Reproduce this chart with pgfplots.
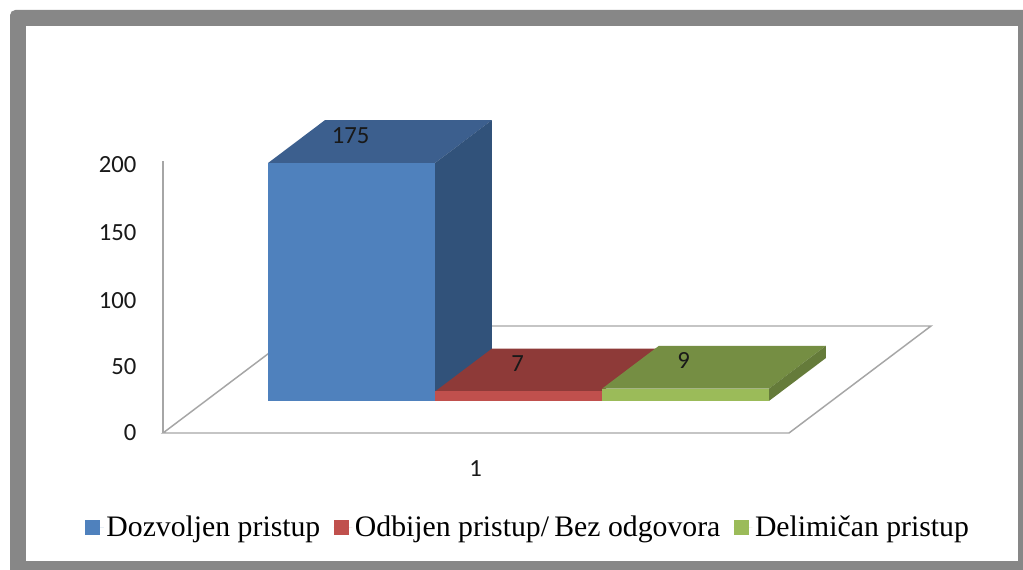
\documentclass[border=0pt]{standalone}
\usepackage{fontspec}
\setmainfont{Liberation Serif}
\newfontfamily\tickfont{Carlito}
\usepackage{pgfplots}
\pgfplotsset{compat=1.18}
\definecolor{frameC}{HTML}{878787}
\definecolor{lineC}{HTML}{A6A6A6}
\definecolor{blueF}{HTML}{4F81BD}
\definecolor{blueT}{HTML}{3C5F8E}
\definecolor{blueS}{HTML}{31527A}
\definecolor{redF}{HTML}{C0504D}
\definecolor{redT}{HTML}{8E3A38}
\definecolor{greenF}{HTML}{9BBB59}
\definecolor{greenT}{HTML}{758E43}
\definecolor{greenS}{HTML}{657B3A}
\begin{document}
\begin{tikzpicture}[x=0.75pt,y=0.75pt]
\path[use as bounding box] (0,0) rectangle (1023,569);
\fill[frameC,rounded corners=4pt] (10,559) -- (10,-20) -- (1040,-20) -- (1040,559) -- cycle;
\fill[white] (26,8) rectangle (1018,543);
\begin{axis}[
  at={(122.25pt,102pt)}, anchor=origin,
  x={(469.5pt,0pt)}, y={(106.5pt,80.25pt)}, z={(0pt,1.02pt)},
  xmin=0.5,xmax=1.5,ymin=0,ymax=1,zmin=0,zmax=200,
  clip=false,
  axis line style={draw=none},
  xtick={1}, ytick=\empty, ztick={0,50,100,150,200},
  major tick length=0pt,
  /pgf/number format/assume math mode=true,
  tick label style={font=\tickfont\fontsize{18.5}{20}\selectfont,text=black!90},
  x tick label style={yshift=-17pt,xshift=4.5pt},
  z tick label style={xshift=-16.5pt,yshift=3pt},
  legend columns=3,
  legend cell align=left,
  legend style={draw=none,fill=none,font=\fontsize{22.3}{25}\selectfont,
    at={(0.5,-0.1)},anchor=center,inner sep=0pt,xshift=-14pt,yshift=-42.5pt,
    /tikz/every even column/.append style={column sep=8pt}},
  legend image code/.code={\fill[#1] (0pt,-5.5pt) rectangle (11.25pt,5.5pt); \path (0pt,0pt) -- (14pt,0pt);},
]
\addplot3[lineC,line width=1.1pt,forget plot] coordinates {(0.5,1,0) (0.5,0,0) (1.5,0,0) (1.5,1,0) (0.5,1,0)};
\addplot3[lineC,line width=1.1pt,forget plot] coordinates {(0.5,0,0) (0.5,0,200)};
% blue
\addplot3[fill=blueT,draw=none,forget plot] coordinates {(0.6,0.3,175) (0.8667,0.3,175) (0.8667,0.7,175) (0.6,0.7,175)};
\addplot3[fill=blueS,draw=none,forget plot] coordinates {(0.8667,0.3,0) (0.8667,0.7,0) (0.8667,0.7,175) (0.8667,0.3,175)};
\addplot3[fill=blueF,draw=none] coordinates {(0.6,0.3,0) (0.8667,0.3,0) (0.8667,0.3,175) (0.6,0.3,175)};
\addlegendentry{Dozvoljen pristup}
% red
\addplot3[fill=redT,draw=none,forget plot] coordinates {(0.8667,0.3,7) (1.1333,0.3,7) (1.1333,0.7,7) (0.8667,0.7,7)};
\addplot3[fill=redF,draw=none] coordinates {(0.8667,0.3,0) (1.1333,0.3,0) (1.1333,0.3,7) (0.8667,0.3,7)};
\addlegendentry{Odbijen pristup/\hspace{4pt}Bez odgovora}
% green
\addplot3[fill=greenT,draw=none,forget plot] coordinates {(1.1333,0.3,9) (1.4,0.3,9) (1.4,0.7,9) (1.1333,0.7,9)};
\addplot3[fill=greenS,draw=none,forget plot] coordinates {(1.4,0.3,0) (1.4,0.7,0) (1.4,0.7,9) (1.4,0.3,9)};
\addplot3[fill=greenF,draw=none] coordinates {(1.1333,0.3,0) (1.4,0.3,0) (1.4,0.3,9) (1.1333,0.3,9)};
\addlegendentry{Delimičan pristup}
\node[font=\tickfont\fontsize{18.5}{20}\selectfont,text=black!90] at (axis cs:0.7333,0.3,175) [yshift=20.5pt,xshift=-0.7pt] {175};
\node[font=\tickfont\fontsize{18.5}{20}\selectfont,text=black!90] at (axis cs:1.0,0.3,7) [yshift=20.5pt,xshift=-0.7pt] {7};
\node[font=\tickfont\fontsize{18.5}{20}\selectfont,text=black!90] at (axis cs:1.2667,0.3,9) [yshift=21.5pt,xshift=-1.5pt] {9};
\end{axis}
\end{tikzpicture}
\end{document}
